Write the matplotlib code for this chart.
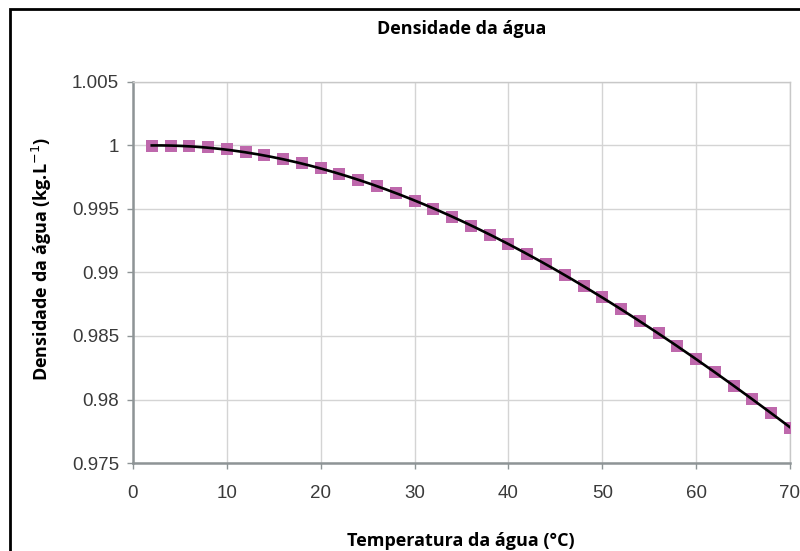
import matplotlib
matplotlib.use('Agg')
import matplotlib.pyplot as plt
import numpy as np
from matplotlib.patches import Rectangle

plt.rcParams['font.family'] = ['Liberation Sans', 'DejaVu Sans']

# temperatura (°C) e densidade (kg/L)
temperatura = [2, 4, 6, 8, 10, 12, 14, 16, 18, 20, 22, 24, 26, 28, 30, 32, 34,
               36, 38, 40, 42, 44, 46, 48, 50, 52, 54, 56, 58, 60, 62, 64, 66, 68, 70]
densidade = [0.99994, 0.99997, 0.99994, 0.99985, 0.99970, 0.99950, 0.99924,
             0.99894, 0.99860, 0.99820, 0.99777, 0.99730, 0.99678, 0.99623,
             0.99565, 0.99503, 0.99437, 0.99369, 0.99297, 0.99222, 0.99144,
             0.99063, 0.98979, 0.98893, 0.98804, 0.98712, 0.98618, 0.98521,
             0.98422, 0.98320, 0.98216, 0.98109, 0.98001, 0.97890, 0.97777]
xticks = [0, 10, 20, 30, 40, 50, 60, 70]
yticks = [0.975, 0.98, 0.985, 0.99, 0.995, 1, 1.005]
yticklabels = ['0.975', '0.98', '0.985', '0.99', '0.995', '1', '1.005']

fig = plt.figure(figsize=(8, 5.51), dpi=100)
ax = fig.add_axes([0.16625, 0.1597, 0.82125, 0.6915])

x = np.array(temperatura)
y = np.array(densidade)
ax.plot(x, y, 's', color='#BE68AC', markersize=8, markeredgewidth=0, zorder=3)

# linha de tendencia polinomial (ordem 3)
coef = np.polyfit(x, y, 3)
xs = np.linspace(x.min(), x.max(), 200)
ax.plot(xs, np.polyval(coef, xs), color='black', lw=1.9, zorder=4)

ax.set_xlim(0, 70)
ax.set_ylim(0.975, 1.005)
ax.set_xticks(xticks)
ax.set_yticks(yticks)
ax.set_yticklabels(yticklabels)
ax.grid(True, color='#d4d4d4', lw=1)
ax.set_axisbelow(True)
for s in ax.spines.values():
    s.set_color('#c8c8c8')
    s.set_linewidth(1)
ax.spines['left'].set_color('#8e9496')
ax.spines['bottom'].set_color('#8e9496')
ax.spines['left'].set_linewidth(1.8)
ax.spines['bottom'].set_linewidth(1.8)
ax.tick_params(axis='both', labelsize=13.5, colors='#8e9496', labelcolor='#3a3a3a',
               length=4, width=1)
ax.tick_params(axis='x', pad=12)
ax.tick_params(axis='y', pad=6)

fig.text(0.577, 0.947, 'Densidade da água', ha='center', va='center',
         fontsize=13, fontweight='bold', family=['Open Sans', 'DejaVu Sans'])
fig.text(0.576, 0.019, 'Temperatura da água (°C)', ha='center', va='center',
         fontsize=13, fontweight='bold', family=['Open Sans', 'DejaVu Sans'])
fig.text(0.052, 0.53, 'Densidade da água (kg.L$^{-1}$)', ha='center', va='center',
         rotation=90, fontsize=13, fontweight='bold', family=['Open Sans', 'DejaVu Sans'])

# moldura do grafico
fig.patches.append(Rectangle((0.012, -0.2), 1.2, 1.184, transform=fig.transFigure,
                             fill=False, edgecolor='black', lw=2))

fig.savefig('out.png', dpi=100)
